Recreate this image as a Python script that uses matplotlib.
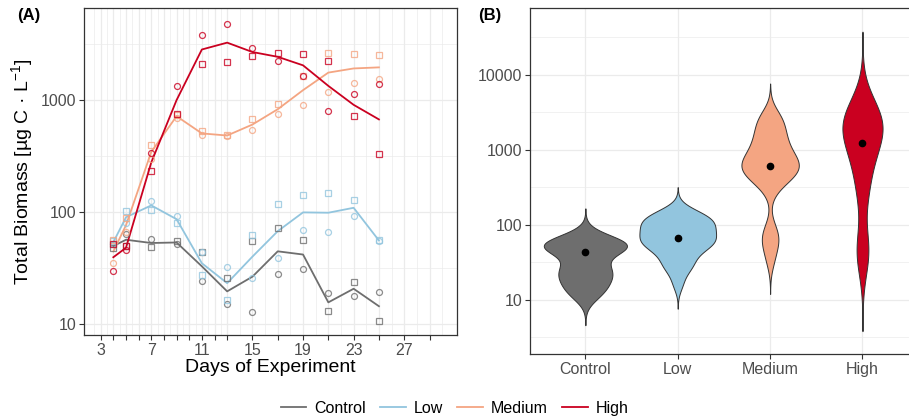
import numpy as np
import matplotlib
matplotlib.use("Agg")
import matplotlib.pyplot as plt
from matplotlib.lines import Line2D
from matplotlib.ticker import FixedLocator, NullFormatter

plt.rcParams["font.family"] = ["Liberation Sans", "DejaVu Sans"]
plt.rcParams["mathtext.fontset"] = "custom"
plt.rcParams["mathtext.rm"] = "Liberation Sans"
plt.rcParams["mathtext.it"] = "Liberation Sans:italic"

# Data, replicate A = circles, replicate B = squares
days = [4, 5, 7, 9, 11, 13, 15, 17, 19, 21, 23, 25]

control_a = [52, 64, 57.7, 52, 24.4, 15, 12.7, 27.9, 31.3, 18.8, 17.9, 19.5]
control_b = [47.5, 50, 48.5, 55, 44, 25.6, 55.3, 71.3, 55.7, 13, 23.9, 10.7]
low_a = [52, 79, 125, 93, 44, 32.6, 25.6, 38.7, 69.8, 66, 92.5, 55]
low_b = [55.6, 102, 105, 80, 27.7, 16.5, 62.5, 117.5, 141, 147, 128.5, 56.4]
medium_a = [35, 66, 300, 693, 482, 472, 542, 742, 906, 1170, 1420, 1520]
medium_b = [56.5, 88, 393, 738, 523, 490, 670, 918, 1645, 2620, 2560, 2500]
high_a = [30, 46, 333, 1320, 3770, 4790, 2900, 2220, 1620, 800, 1130, 1375]
high_b = [52, 50, 230, 750, 2100, 2190, 2460, 2640, 2550, 2220, 722, 326]

treatments = ["Control", "Low", "Medium", "High"]
colors = ["#6E6E6E", "#92C5DE", "#F4A582", "#CA0020"]
rep_a = [control_a, low_a, medium_a, high_a]
rep_b = [control_b, low_b, medium_b, high_b]
medians = [43, 66, 600, 1220]

day_breaks = list(range(3, 14)) + list(range(15, 30, 2))

GRID = "#EBEBEB"
TXT = "#4D4D4D"

fig = plt.figure(figsize=(9.09, 4.2), dpi=100)
axA = fig.add_axes([0.0924, 0.2024, 0.4103, 0.7786])
axB = fig.add_axes([0.583, 0.1571, 0.4268, 0.823])

# Panel A: time series
for name, col, a, b in zip(treatments, colors, rep_a, rep_b):
    a = np.array(a, dtype=float)
    b = np.array(b, dtype=float)
    mean_line = 10 ** ((np.log10(a) + np.log10(b)) / 2)
    axA.plot(days, mean_line, color=col, lw=1.3, zorder=3)
    axA.plot(days, a, "o", mfc="none", mec=col, ms=4.3, mew=0.9, alpha=0.8, zorder=4)
    axA.plot(days, b, "s", mfc="none", mec=col, ms=4.0, mew=0.9, alpha=0.8, zorder=4)

axA.set_yscale("log")
axA.set_xlim(1.68, 31.17)
axA.set_ylim(8.0, 6600)
axA.set_yticks([10, 100, 1000])
axA.set_yticklabels(["10", "100", "1000"])
axA.yaxis.set_minor_locator(FixedLocator([10 ** 1.5, 10 ** 2.5, 10 ** 3.5]))
axA.yaxis.set_minor_formatter(NullFormatter())
axA.set_xticks(day_breaks)
axA.set_xticklabels([str(d) if (d - 3) % 4 == 0 else "" for d in day_breaks])
minor_x = [2.5] + [d + 0.5 for d in range(3, 13)] + list(range(14, 31, 2))
axA.xaxis.set_minor_locator(FixedLocator(minor_x))
axA.set_xlabel("Days of Experiment", fontsize=14, labelpad=1)
axA.set_ylabel("Total Biomass [µg C · L$^{-1}$]", fontsize=14, labelpad=4)

# Panel B: violins of pooled data on log scale
kde = []
for a, b in zip(rep_a, rep_b):
    v = np.log10(np.array(a + b, dtype=float))
    n = len(v)
    iqr = np.subtract(*np.percentile(v, [75, 25]))
    bw = 0.9 * min(v.std(ddof=1), iqr / 1.34) * n ** (-0.2)
    grid = np.linspace(v.min() - 3 * bw, v.max() + 3 * bw, 400)
    dens = np.exp(-0.5 * ((grid[:, None] - v[None, :]) / bw) ** 2).sum(axis=1)
    dens /= n * bw * np.sqrt(2 * np.pi)
    kde.append((grid, dens))
max_dens = max(d.max() for g, d in kde)

for i, ((grid, dens), col) in enumerate(zip(kde, colors)):
    half = 0.45 * dens / max_dens
    axB.fill_betweenx(10 ** grid, i + 1 - half, i + 1 + half, facecolor=col,
                      edgecolor="#333333", lw=0.7, zorder=3)
    axB.plot(i + 1, medians[i], "o", color="black", ms=4.5, zorder=4)

axB.set_yscale("log")
axB.set_xlim(0.4, 4.6)
axB.set_ylim(1.9, 76700)
axB.set_yticks([10, 100, 1000, 10000])
axB.set_yticklabels(["10", "100", "1000", "10000"])
axB.yaxis.set_minor_locator(FixedLocator([10 ** 0.5, 10 ** 1.5, 10 ** 2.5, 10 ** 3.5, 10 ** 4.5]))
axB.yaxis.set_minor_formatter(NullFormatter())
axB.set_xticks([1, 2, 3, 4])
axB.set_xticklabels(treatments)

for ax in (axA, axB):
    ax.set_facecolor("white")
    ax.grid(True, which="major", color=GRID, lw=0.9, zorder=0)
    ax.grid(True, which="minor", color=GRID, lw=0.5, zorder=0)
    ax.set_axisbelow(True)
    ax.tick_params(which="major", length=3.5, width=0.8, color="#333333",
                   labelsize=11.5, labelcolor=TXT, pad=2)
    ax.tick_params(which="minor", length=0)
    for sp in ax.spines.values():
        sp.set_color("#333333")
        sp.set_linewidth(0.9)

fig.text(0.019, 0.962, "(A)", fontsize=12, fontweight="bold", va="center")
fig.text(0.526, 0.962, "(B)", fontsize=12, fontweight="bold", va="center")

handles = [Line2D([0], [0], color=c, lw=1.3) for c in colors]
fig.legend(handles, treatments, loc="center", bbox_to_anchor=(0.5, 0.028), ncol=4,
           frameon=False, fontsize=11.5, handlelength=1.6, handletextpad=0.5,
           columnspacing=0.9)

fig.savefig("out.png", dpi=100)
